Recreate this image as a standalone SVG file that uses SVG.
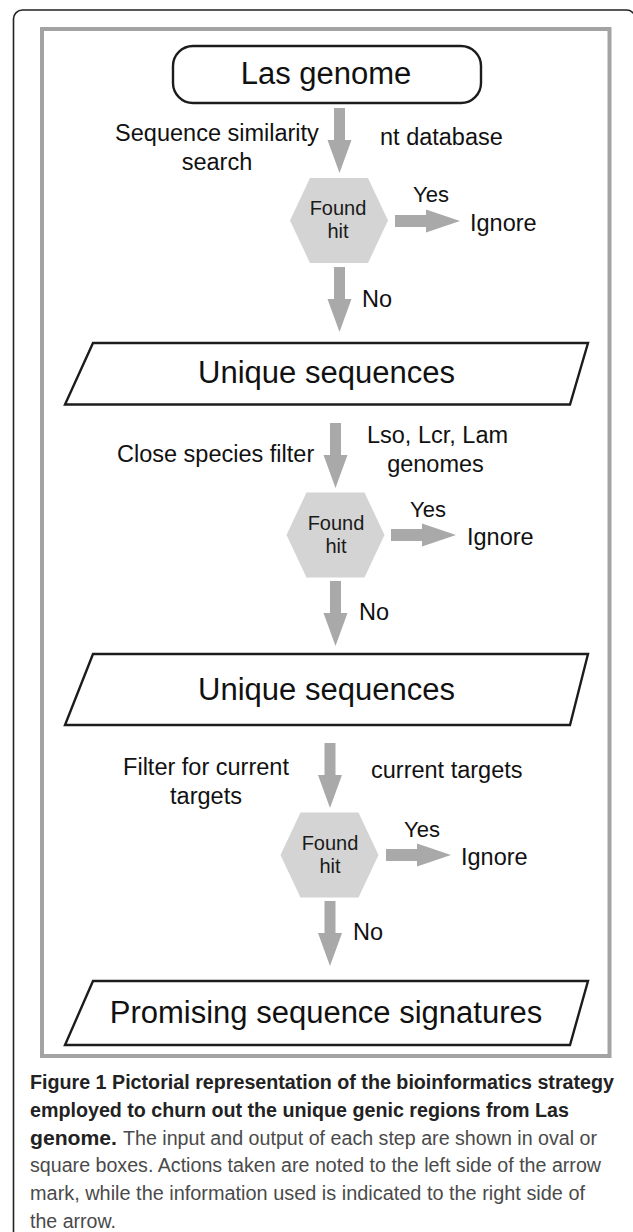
<svg xmlns="http://www.w3.org/2000/svg" xmlns:xlink="http://www.w3.org/1999/xlink" width="633" height="1232" viewBox="0 0 633 1232">
  <style>
    text { font-family: "Liberation Sans", Arial, sans-serif; fill: #111; }
    .frame { fill: none; stroke: #222; stroke-width: 1.6; }
    .panel { fill: #fff; stroke: #a3a3a3; stroke-width: 4; }
    .box { fill: #fff; stroke: #1c1c1c; stroke-width: 2.4; stroke-linejoin: miter; }
    .hex { fill: #d4d4d4; }
    .arrow { fill: #a9a9a9; }
    .title { font-size: 31px; text-anchor: middle; }
    .lbl { font-size: 23.5px; }
    .mid { text-anchor: middle; }
    .dec { font-size: 20px; text-anchor: middle; fill: #1a1a1a; }
    .yn { font-size: 22px; }
    .capb { font-size: 20px; font-weight: bold; fill: #222; }
    .cap { font-size: 20px; fill: #4a4a4a; }
  </style>
  <defs>
    <!-- downward block arrow, tip at (0,65) -->
    <path id="arrowDown" d="M-5.5,0 L5.5,0 L5.5,32 L12,32 L0,65 L-12,32 L-5.5,32 Z"/>
    <!-- rightward block arrow, tip at (65,0) -->
    <path id="arrowRight" d="M0,-6 L31,-6 L31,-11.5 L65,0 L31,11.5 L31,6 L0,6 Z"/>
    <!-- decision hexagon centred on the origin -->
    <path id="hexShape" d="M-29,-42.5 L29,-42.5 L49,0 L29,42.5 L-29,42.5 L-49,0 Z"/>
  </defs>

  <rect x="0" y="0" width="633" height="1232" fill="#fff"/>
  <rect class="frame" x="13.5" y="10" width="622" height="1250" rx="9"/>
  <rect class="panel" x="42" y="29" width="567.5" height="1027"/>

  <!-- connectors -->
  <g id="connectors">
    <use xlink:href="#arrowDown" class="arrow" x="339.5" y="108"/>
    <use xlink:href="#arrowRight" class="arrow" x="395" y="221"/>
    <use xlink:href="#arrowDown" class="arrow" x="339.5" y="267"/>

    <use xlink:href="#arrowDown" class="arrow" x="335.5" y="423"/>
    <use xlink:href="#arrowRight" class="arrow" x="391" y="535"/>
    <use xlink:href="#arrowDown" class="arrow" x="335.5" y="581"/>

    <use xlink:href="#arrowDown" class="arrow" x="330" y="743"/>
    <use xlink:href="#arrowRight" class="arrow" x="386" y="855"/>
    <use xlink:href="#arrowDown" class="arrow" x="330" y="901"/>
  </g>

  <!-- edge labels -->
  <g id="labels">
    <text class="lbl mid" x="217" y="141">Sequence similarity</text>
    <text class="lbl mid" x="217" y="170">search</text>
    <text class="lbl" x="380" y="145">nt database</text>
    <text class="yn" x="413" y="202">Yes</text>
    <text class="lbl" x="470" y="231">Ignore</text>
    <text class="lbl" x="362" y="307">No</text>

    <text class="lbl" x="117" y="462">Close species filter</text>
    <text class="lbl mid" x="437.5" y="443">Lso, Lcr, Lam</text>
    <text class="lbl mid" x="435.5" y="472">genomes</text>
    <text class="yn" x="410" y="517">Yes</text>
    <text class="lbl" x="467" y="545">Ignore</text>
    <text class="lbl" x="359" y="620">No</text>

    <text class="lbl mid" x="206" y="775">Filter for current</text>
    <text class="lbl mid" x="206" y="804">targets</text>
    <text class="lbl" x="371" y="778">current targets</text>
    <text class="yn" x="404" y="837">Yes</text>
    <text class="lbl" x="461" y="865">Ignore</text>
    <text class="lbl" x="353" y="940">No</text>
  </g>

  <g id="las-genome">
    <rect class="box" x="173" y="46" width="308" height="57" rx="20"/>
    <text class="title" x="326" y="84">Las genome</text>
  </g>

  <g id="hit-1">
    <use xlink:href="#hexShape" class="hex" x="339" y="220.5"/>
    <text class="dec" x="338" y="215">Found</text>
    <text class="dec" x="338" y="238">hit</text>
  </g>

  <g id="unique-1">
    <path class="box" d="M93,343 L588,343 L570,404.5 L65,404.5 Z"/>
    <text class="title" x="326.5" y="382.5">Unique sequences</text>
  </g>

  <g id="hit-2">
    <use xlink:href="#hexShape" class="hex" x="335.5" y="535"/>
    <text class="dec" x="336" y="530">Found</text>
    <text class="dec" x="336" y="553">hit</text>
  </g>

  <g id="unique-2">
    <path class="box" d="M93,654 L588,654 L570,725 L65,725 Z"/>
    <text class="title" x="326.5" y="700">Unique sequences</text>
  </g>

  <g id="hit-3">
    <use xlink:href="#hexShape" class="hex" x="329.5" y="855"/>
    <text class="dec" x="330" y="850">Found</text>
    <text class="dec" x="330" y="873">hit</text>
  </g>

  <g id="signatures">
    <path class="box" d="M93,981 L588,981 L570,1045 L65,1045 Z"/>
    <text class="title" x="326" y="1023">Promising sequence signatures</text>
  </g>

  <!-- figure caption -->
  <g id="caption">
    <text class="capb" x="30" y="1088.5" textLength="584" lengthAdjust="spacingAndGlyphs">Figure 1 Pictorial representation of the bioinformatics strategy</text>
    <text class="capb" x="30" y="1116.5" textLength="539" lengthAdjust="spacingAndGlyphs">employed to churn out the unique genic regions from Las</text>
    <text class="capb" x="30" y="1144.5" textLength="87" lengthAdjust="spacingAndGlyphs">genome.</text>
    <text class="cap" x="123" y="1144.5" textLength="474" lengthAdjust="spacingAndGlyphs">The input and output of each step are shown in oval or</text>
    <text class="cap" x="30" y="1172" textLength="571" lengthAdjust="spacingAndGlyphs">square boxes. Actions taken are noted to the left side of the arrow</text>
    <text class="cap" x="30" y="1200" textLength="555" lengthAdjust="spacingAndGlyphs">mark, while the information used is indicated to the right side of</text>
    <text class="cap" x="30" y="1227.5" textLength="86" lengthAdjust="spacingAndGlyphs">the arrow.</text>
  </g>
</svg>
